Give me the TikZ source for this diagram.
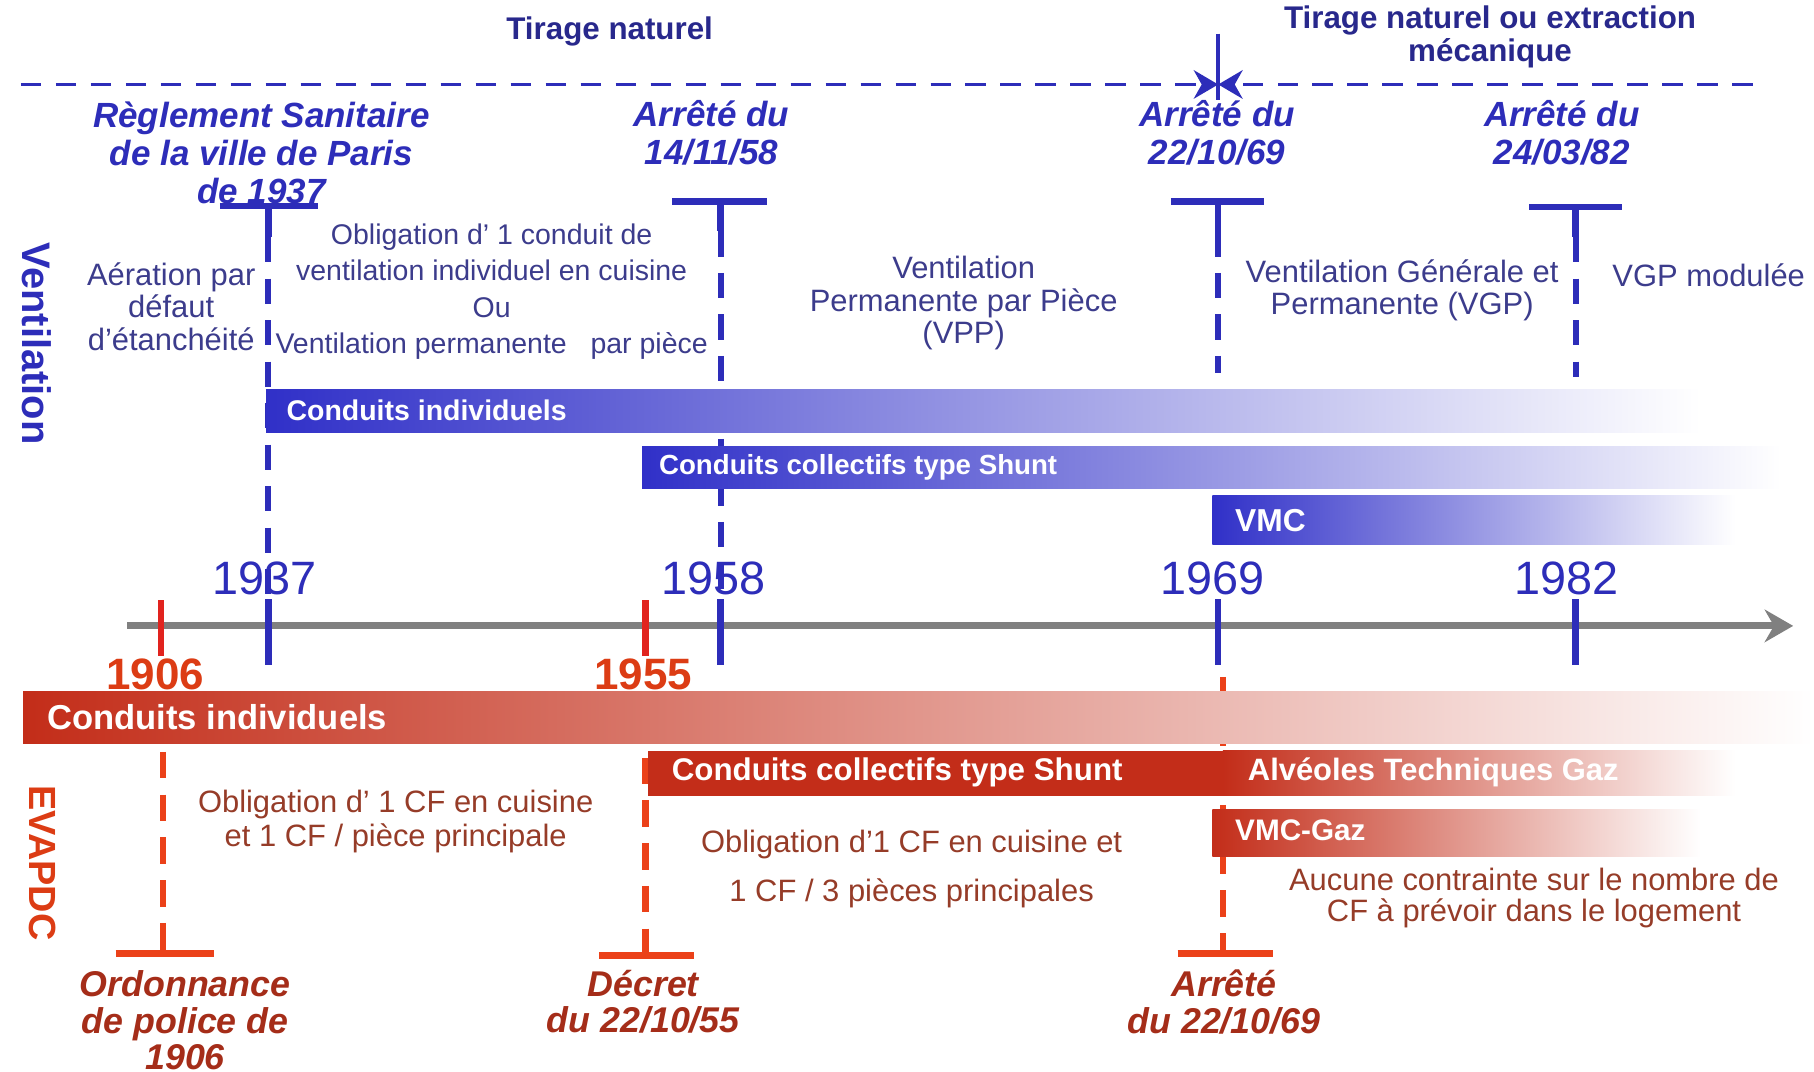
\documentclass[tikz,border=0pt]{standalone}
\usepackage{fontspec}
\setmainfont{Liberation Sans}
\usetikzlibrary{arrows.meta}

\definecolor{navy}{RGB}{40,40,140}
\definecolor{vblue}{RGB}{45,45,185}
\definecolor{vbarblue}{RGB}{48,48,200}
\definecolor{vtext}{RGB}{60,60,140}
\definecolor{rline}{RGB}{235,65,25}
\definecolor{rtick}{RGB}{225,35,30}
\definecolor{rbar}{RGB}{195,45,25}
\definecolor{rtext}{RGB}{150,60,40}
\definecolor{rlabel}{RGB}{165,45,25}
\definecolor{redyear}{RGB}{220,60,20}
\definecolor{axisgray}{RGB}{128,128,128}

\tikzset{
	vnote/.style={text=vtext,font=\fontsize{7.6}{8}\selectfont,align=center,inner sep=0pt},
	rnote/.style={text=rtext,font=\fontsize{7.6}{8.5}\selectfont,align=center,inner sep=0pt},
	vlaw/.style={text=vblue,font=\fontsize{8.6}{9.4}\selectfont\bfseries\itshape,align=center,inner sep=0pt},
	rlaw/.style={text=rlabel,font=\fontsize{8.8}{9}\selectfont\bfseries\itshape,align=center,inner sep=0pt},
	bartext/.style={text=white,anchor=west,inner sep=0pt,font=\fontsize{#1}{#1}\selectfont\bfseries},
	vyear/.style={text=vblue,font=\fontsize{11.5}{12}\selectfont,inner sep=0pt},
	ryear/.style={text=redyear,font=\fontsize{10.8}{11}\selectfont\bfseries,inner sep=0pt},
	vtee/.style={vblue,line width=1.6pt},
	vdash/.style={vblue,line width=1.5pt,dash pattern=on 6.2pt off 4pt},
	rtee/.style={rline,line width=1.6pt},
	rdash/.style={rline,line width=1.5pt,dash pattern=on 6.5pt off 4pt},
}

\begin{document}
\begin{tikzpicture}[x=0.01cm,y=-0.01cm]
	\useasboundingbox[fill=white] (0,0) rectangle (1568,926);

	% draught
	\node[text=navy,font=\fontsize{7.7}{8}\selectfont\bfseries] (tirnat) at (527,27) {Tirage naturel};
	\node[text=navy,font=\fontsize{7.7}{8}\selectfont\bfseries,align=center] (tirmeca) at (1288,32) {Tirage naturel ou extraction\\mécanique};
	\coordinate (split) at (1053,73);
	\draw[vblue,line width=0.9pt] (1053,29) -- (1053,86);
	\draw[vblue,line width=0.9pt,dash pattern=on 5pt off 3.6pt,-{Stealth[length=6pt,width=7pt]}] (18,73) -- (split);
	\draw[vblue,line width=0.9pt,dash pattern=on 5pt off 3.6pt,-{Stealth[length=6pt,width=7pt]}] (1515,73) -- (split);

	% 1937
	\coordinate (v37) at (232,178);
	\draw[vtee] (v37) ++(-42,0) -- ++(85,0);
	\draw[vtee] (v37) -- (232,205);
	\draw[vdash] (232,205) -- (232,518);
	% 1958
	\coordinate (v58) at (623,174);
	\draw[vtee] (v58) ++(-42,0) -- ++(82,0);
	\draw[vtee] (v58) -- (623,200);
	\draw[vdash] (623,200) -- (623,518);
	% 1969
	\coordinate (v69) at (1053,174);
	\draw[vtee] (v69) ++(-41,0) -- ++(81,0);
	\draw[vtee] (v69) -- (1053,200);
	\draw[vdash] (1053,200) -- (1053,322);
	% 1982
	\coordinate (v82) at (1362,179);
	\draw[vtee] (v82) ++(-40,0) -- ++(80,0);
	\draw[vtee] (v82) -- (1362,205);
	\draw[vdash] (1362,205) -- (1362,326);

	% 1906, 1955, 1969 (gaz)
	\coordinate (r06) at (141,824);
	\draw[rdash] (141,650) -- (141,812);
	\draw[rtee] (141,812) -- (r06);
	\draw[rtee] (r06) ++(-41,0) -- ++(85,0);
	\coordinate (r55) at (558,826);
	\draw[rdash] (558,655) -- (558,814);
	\draw[rtee] (558,814) -- (r55);
	\draw[rtee] (r55) ++(-40,0) -- ++(82,0);
	\coordinate (r69) at (1057,824);
	\draw[rdash] (1057,585) -- (1057,812);
	\draw[rtee] (1057,812) -- (r69);
	\draw[rtee] (r69) ++(-39,0) -- ++(82,0);

	% time axis
	\draw[axisgray,line width=1.7pt,-{Stealth[length=7pt,width=8pt]}] (110,541) -- (1550,541);
	\draw[vtee] (232,518) -- (232,575);
	\draw[vtee] (623,518) -- (623,575);
	\draw[vtee] (1053,518) -- (1053,575);
	\draw[vtee] (1362,518) -- (1362,575);
	\draw[rtick,line width=1.5pt] (139,519) -- (139,567);
	\draw[rtick,line width=1.5pt] (558,519) -- (558,567);

	% ventilation ducts
	\shade[left color=vbarblue,right color=white] (230,337) rectangle (1470,374);
	\shade[left color=vbarblue,right color=white] (555,386) rectangle (1540,422);
	\shade[left color=vbarblue,right color=white] (1048,428) rectangle (1500,471);
	\node[bartext=7] (vci) at (247,355) {Conduits individuels};
	\node[bartext=6.8] (vshunt) at (569,404) {Conduits collectifs type Shunt};
	\node[bartext=7.8] (vmc) at (1067,450) {VMC};

	% flue ducts
	\shade[left color=rbar,right color=white] (20,598) rectangle (1568,643);
	\fill[rbar] (560,649) rectangle (1057,688);
	\shade[left color=rbar,right color=white] (1057,649) rectangle (1500,688);
	\shade[left color=rbar,right color=white] (1048,700) rectangle (1470,740);
	\node[bartext=8.5] (rci) at (40,620) {Conduits individuels};
	\node[bartext=7.7] (rshunt) at (580,668) {Conduits collectifs type Shunt};
	\node[bartext=7.6] (atg) at (1078,668) {Alvéoles Techniques Gaz};
	\node[bartext=7.3] (vmcgaz) at (1067,718) {VMC-Gaz};

	% years
	\node[vyear] (y37) at (229,500) {1937};
	\node[vyear] (y58) at (617,500) {1958};
	\node[vyear] (y69) at (1048,500) {1969};
	\node[vyear] (y82) at (1354,500) {1982};
	\node[ryear] (y06) at (134,583) {1906};
	\node[ryear] (y55) at (556,583) {1955};

	% texts
	\node[vlaw] (regl37) at (226,132) {Règlement Sanitaire\\de la ville de Paris\\de 1937};
	\node[vlaw] (arr58) at (615,115) {Arrêté du\\14/11/58};
	\node[vlaw] (arr69) at (1052,115) {Arrêté du\\22/10/69};
	\node[vlaw] (arr82) at (1350,115) {Arrêté du\\24/03/82};
	\node[vnote] (aer) at (148,265) {Aération par\\défaut\\d’étanchéité};
	\node[vnote,font=\fontsize{7}{8.9}\selectfont] (obl37) at (425,252) {Obligation d’ 1 conduit de\\ventilation individuel en cuisine\\Ou\\Ventilation permanente\ \ \ par pièce};
	\node[vnote] (vpp) at (833,262) {Ventilation\\Permanente par Pièce\\(VPP)};
	\node[vnote] (vgp) at (1212,251) {Ventilation Générale et\\Permanente (VGP)};
	\node[vnote] (vgpmod) at (1477,238) {VGP modulée};
	\node[rnote] (cf06) at (342,710) {Obligation d' 1 CF en cuisine\\et 1 CF / pièce principale};
	\node[rnote] (cf55) at (788,751) {Obligation d'1 CF en cuisine et\\[3.5pt]1 CF / 3 pièces principales};
	\node[rnote,font=\fontsize{7.6}{7.7}\selectfont] (cf69) at (1326,776) {Aucune contrainte sur le nombre de\\CF à prévoir dans le logement};
	\node[rlaw] (ord06) at (160,882) {Ordonnance\\de police de\\1906};
	\node[rlaw] (dec55) at (556,866) {Décret\\du 22/10/55};
	\node[rlaw] (arr69r) at (1058,866) {Arrêté\\du 22/10/69};

	% domains
	\node[rotate=-90,text=vblue,font=\fontsize{9.8}{10}\selectfont\bfseries] (vent) at (32,297) {Ventilation};
	\node[rotate=-90,text=redyear,font=\fontsize{9.3}{10}\selectfont\bfseries] (evap) at (37,746) {EVAPDC};
\end{tikzpicture}
\end{document}
